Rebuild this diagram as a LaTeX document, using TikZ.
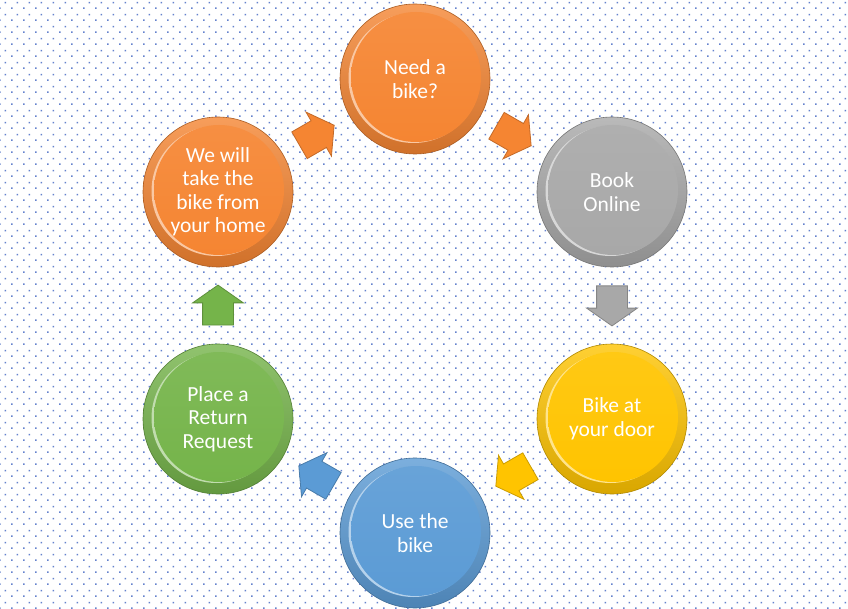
\documentclass[tikz,border=0pt]{standalone}
\usepackage{fontspec}
\setmainfont{Carlito}
\usetikzlibrary{shapes.arrows,calc,patterns}

\definecolor{dotblue}{RGB}{100,130,205}
\definecolor{bikeorange}{RGB}{245,133,50}
\definecolor{bikegray}{RGB}{168,168,168}
\definecolor{bikeyellow}{RGB}{255,196,0}
\definecolor{bikeblue}{RGB}{91,155,213}
\definecolor{bikegreen}{RGB}{117,180,74}

% staggered dots of the page background
\pgfdeclarepatternformonly{bgdots}{\pgfqpoint{0pt}{0pt}}{\pgfqpoint{12pt}{12pt}}{\pgfqpoint{12pt}{12pt}}{%
  \pgfpathrectangle{\pgfqpoint{0pt}{0pt}}{\pgfqpoint{1.8pt}{1.8pt}}%
  \pgfpathrectangle{\pgfqpoint{6pt}{6pt}}{\pgfqpoint{1.8pt}{1.8pt}}%
  \pgfusepath{fill}}

\tikzset{
  disc/.style={circle, minimum size=150pt, inner sep=0pt, align=center,
    text=white, font=\fontsize{21.5}{23.5}\selectfont,
    draw=#1!70!black, line width=0.6pt,
    shade, top color=#1!80!white, bottom color=#1!85!black,
    path picture={
      \fill[#1!45!white] ([shift={(-1.5pt,1pt)}]path picture bounding box.center) circle (65pt);
      \shade[top color=#1!92!white, bottom color=#1] ([shift={(1pt,2pt)}]path picture bounding box.center) circle (65pt);
    }},
  flow arrow/.style={single arrow, fill=#1, draw=#1!80!black, line width=0.8pt,
    inner sep=0pt, minimum height=40pt, single arrow head extend=10pt,
    single arrow tip angle=110, anchor=tail},
}

\begin{document}
\begin{tikzpicture}[x=1pt,y=-1pt]
\useasboundingbox (0,0) rectangle (848,609);
\fill[white] (0,0) rectangle (848,609);
\fill[pattern=bgdots, pattern color=dotblue] (0,0) rectangle (848,609);

% the six steps
\node[disc=bikeorange] (need) at (415,79) {Need a\\bike?};
\node[disc=bikegray]   (book) at (612,192) {Book\\Online};
\node[disc=bikeyellow] (door) at (612,419) {Bike at\\your door};
\node[disc=bikeblue]   (use)  at (415,533) {Use the\\bike};
\node[disc=bikegreen]  (ret)  at (218,419) {Place a\\Return\\Request};
\node[disc=bikeorange] (home) at (218,192) {We will\\take the\\bike from\\your home};

% arrows between them
\node[flow arrow=bikeorange, rotate=-30] (a1) at ($(need)!0.5!(book)!20pt!(need)$) {\rule{0pt}{30pt}};
\node[flow arrow=bikegray,   rotate=-90] (a2) at ($(book)!0.5!(door)!20pt!(book)$) {\rule{0pt}{30pt}};
\node[flow arrow=bikeyellow, rotate=210] (a3) at ($(door)!0.5!(use)!20pt!(door)$)  {\rule{0pt}{30pt}};
\node[flow arrow=bikeblue,   rotate=150] (a4) at ($(use)!0.5!(ret)!20pt!(use)$)   {\rule{0pt}{30pt}};
\node[flow arrow=bikegreen,  rotate=90]  (a5) at ($(ret)!0.5!(home)!20pt!(ret)$)  {\rule{0pt}{30pt}};
\node[flow arrow=bikeorange, rotate=30]  (a6) at ($(home)!0.5!(need)!20pt!(home)$) {\rule{0pt}{30pt}};
\end{tikzpicture}
\end{document}
